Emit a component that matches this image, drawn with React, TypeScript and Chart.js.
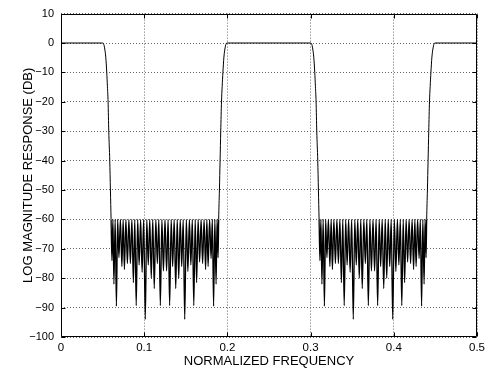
import { useEffect, useRef } from "react";
import { Chart, registerables } from "chart.js";

Chart.register(...registerables);

// ---- tick labels ----
const xTickValues = [0, 0.1, 0.2, 0.3, 0.4, 0.5];
const yTickValues = [-100, -90, -80, -70, -60, -50, -40, -30, -20, -10, 0, 10];

// ---- passbands (normalized frequency edges, dB) ----
const pass1Freq = [0, 0.0502];
const pass2Freq = [0.1995, 0.3002];
const pass3Freq = [0.4495, 0.5];
const passDb = 0;

// ---- transition bands ----
const fall1Freq = [0.0502, 0.0512, 0.0522, 0.0538, 0.055, 0.0558, 0.0566, 0.0574, 0.0586, 0.0594, 0.0602];
const fall1Db = [0, -0.3, -1.4, -4.8, -10, -14.8, -20, -30, -40, -50, -60];
const rise1Freq = [0.1895, 0.1904, 0.1912, 0.192, 0.1929, 0.1937, 0.1946, 0.1958, 0.1974, 0.1984, 0.1995];
const rise1Db = [-60, -50, -40, -30, -20, -14.8, -10, -4.8, -1.4, -0.3, 0];
const fall2Freq = [0.3002, 0.3012, 0.3022, 0.3038, 0.305, 0.3058, 0.3066, 0.3074, 0.3086, 0.3094, 0.3102];
const fall2Db = [0, -0.3, -1.4, -4.8, -10, -14.8, -20, -30, -40, -50, -60];
const rise2Freq = [0.4395, 0.4404, 0.4412, 0.442, 0.4429, 0.4437, 0.4446, 0.4458, 0.4474, 0.4484, 0.4495];
const rise2Db = [-60, -50, -40, -30, -20, -14.8, -10, -4.8, -1.4, -0.3, 0];

// ---- stopbands: null frequencies and depths; equiripple peaks at -60 dB ----
const stopPeakDb = -60;
const stop1NullFreq = [
  0.0612, 0.0636, 0.0666, 0.0696, 0.0732, 0.0762, 0.0798, 0.0834, 0.087, 0.0904,
  0.0939, 0.0975, 0.1013, 0.1049, 0.1085, 0.1121, 0.1158, 0.1194, 0.1231,
  0.1269, 0.1306, 0.1342, 0.1379, 0.1415, 0.1451, 0.1487, 0.1525, 0.1561, 0.1596,
  0.163, 0.1666, 0.1702, 0.1738, 0.1768, 0.1804, 0.1834, 0.1864, 0.1888,
];
const stop1NullDb = [
  -74, -82, -89.5, -73, -76, -77, -75, -75, -81.5, -89.3,
  -75.5, -78, -94, -75.5, -80, -83.5, -75, -89.3, -77.5,
  -77.5, -89.3, -76, -83.5, -80, -76, -94, -77.7, -75.5, -89.3,
  -81.5, -74.5, -75, -77, -76, -73.3, -89.5, -82, -73,
];
const stop2NullFreq = [
  0.3112, 0.3136, 0.3166, 0.3196, 0.3232, 0.3262, 0.3298, 0.3334, 0.337, 0.3404,
  0.3439, 0.3475, 0.3513, 0.3549, 0.3585, 0.3621, 0.3658, 0.3694, 0.3731,
  0.3769, 0.3806, 0.3842, 0.3879, 0.3915, 0.3951, 0.3987, 0.4025, 0.4061, 0.4096,
  0.413, 0.4166, 0.4202, 0.4238, 0.4268, 0.4304, 0.4334, 0.4364, 0.4388,
];
const stop2NullDb = [
  -74, -82, -89.5, -73, -76, -77, -75, -75, -81.5, -89.3,
  -75.5, -78, -94, -75.5, -80, -83.5, -75, -89.3, -77.5,
  -77.5, -89.3, -76, -83.5, -80, -76, -94, -77.7, -75.5, -89.3,
  -81.5, -74.5, -75, -77, -76, -73.3, -89.5, -82, -73,
];

type Pt = { x: number; y: number };

function buildPoints(): Pt[] {
  const pts: Pt[] = [];
  const addPairs = (fs: number[], ds: number[]) => fs.forEach((f, i) => pts.push({ x: f, y: ds[i] }));
  const addPass = (fs: number[]) => fs.forEach((f) => pts.push({ x: f, y: passDb }));
  const addStop = (fs: number[], ds: number[]) => {
    fs.forEach((f, i) => {
      pts.push({ x: f, y: ds[i] });
      if (i < fs.length - 1) pts.push({ x: (f + fs[i + 1]) / 2, y: stopPeakDb });
    });
  };
  addPass(pass1Freq);
  addPairs(fall1Freq, fall1Db);
  addStop(stop1NullFreq, stop1NullDb);
  addPairs(rise1Freq, rise1Db);
  addPass(pass2Freq);
  addPairs(fall2Freq, fall2Db);
  addStop(stop2NullFreq, stop2NullDb);
  addPairs(rise2Freq, rise2Db);
  addPass(pass3Freq);
  return pts;
}

const FONT = "'Liberation Sans', Arial, Helvetica, sans-serif";

const framePlugin = {
  id: "frame",
  afterDatasetsDraw(chart: any) {
    const { ctx, chartArea } = chart;
    const { left, right, top, bottom } = chartArea;
    const xs = chart.scales.x;
    const ys = chart.scales.y;
    ctx.save();
    ctx.strokeStyle = "#000";
    ctx.lineWidth = 1;
    ctx.setLineDash([]);
    const L = Math.round(left) + 0.5;
    const R = Math.round(right) - 0.5;
    const T = Math.round(top) + 0.5;
    const B = Math.round(bottom) - 0.5;
    ctx.beginPath();
    ctx.rect(L, T, R - L, B - T);
    const tl = 4;
    xTickValues.forEach((v) => {
      const px = Math.round(xs.getPixelForValue(v)) + 0.5;
      ctx.moveTo(px, B);
      ctx.lineTo(px, B - tl);
      ctx.moveTo(px, T);
      ctx.lineTo(px, T + tl);
    });
    yTickValues.forEach((v) => {
      const py = Math.round(ys.getPixelForValue(v)) + 0.5;
      ctx.moveTo(L, py);
      ctx.lineTo(L + tl, py);
      ctx.moveTo(R, py);
      ctx.lineTo(R - tl, py);
    });
    ctx.stroke();
    ctx.restore();
  },
};

export default function App() {
  const ref = useRef<HTMLCanvasElement | null>(null);
  useEffect(() => {
    if (!ref.current) return;
    const chart = new Chart(ref.current, {
      type: "line",
      data: {
        datasets: [
          {
            data: buildPoints(),
            borderColor: "#000",
            borderWidth: 1,
            pointRadius: 0,
            fill: false,
            cubicInterpolationMode: "monotone",
            segment: {
              borderWidth: (c: any) =>
                c.p0.parsed.y <= stopPeakDb + 0.01 && c.p1.parsed.y <= stopPeakDb + 0.01 ? 1.3 : 1,
            },
          },
        ],
      },
      options: {
        responsive: false,
        animation: false,
        devicePixelRatio: 1,
        parsing: false,
        events: [],
        layout: { padding: { left: 0, right: 13, top: 9, bottom: 0 } },
        plugins: { legend: { display: false }, tooltip: { enabled: false } },
        scales: {
          x: {
            type: "linear",
            min: 0,
            max: 0.5,
            afterFit: (s: any) => {
              s.height = 36;
            },
            afterBuildTicks: (s: any) => {
              s.ticks = xTickValues.map((v) => ({ value: v }));
            },
            grid: { color: "#666", lineWidth: 1, drawTicks: false },
            border: { display: false, dash: [1, 2] },
            ticks: {
              color: "#000",
              padding: 4,
              maxRotation: 0,
              autoSkip: false,
              font: { family: FONT, size: 11.5 },
              callback: (v: any) => String(Math.round(Number(v) * 10) / 10),
            },
            title: {
              display: true,
              text: "NORMALIZED FREQUENCY",
              color: "#000",
              font: { family: FONT, size: 13 },
              padding: { top: 0, bottom: 4 },
            },
          },
          y: {
            type: "linear",
            min: -100,
            max: 10,
            afterFit: (s: any) => {
              s.width = 61;
            },
            afterBuildTicks: (s: any) => {
              s.ticks = yTickValues.map((v) => ({ value: v }));
            },
            grid: { color: "#666", lineWidth: 1, drawTicks: false },
            border: { display: false, dash: [1, 2] },
            ticks: {
              color: "#000",
              padding: 7,
              autoSkip: false,
              font: { family: FONT, size: 11 },
              callback: (v: any) => {
                const n = Math.round(Number(v));
                return n < 0 ? "\u2212" + Math.abs(n) : String(n);
              },
            },
            title: {
              display: true,
              text: "LOG MAGNITUDE RESPONSE (DB)",
              color: "#000",
              font: { family: FONT, size: 13 },
              padding: { top: 21, bottom: 0 },
            },
          },
        },
      },
      plugins: [framePlugin],
    });
    return () => chart.destroy();
  }, []);
  return (
    <div style={{ position: "absolute", left: 0, top: 0, width: 490, height: 373, background: "#fff" }}>
      <canvas ref={ref} width={490} height={373} />
    </div>
  );
}
